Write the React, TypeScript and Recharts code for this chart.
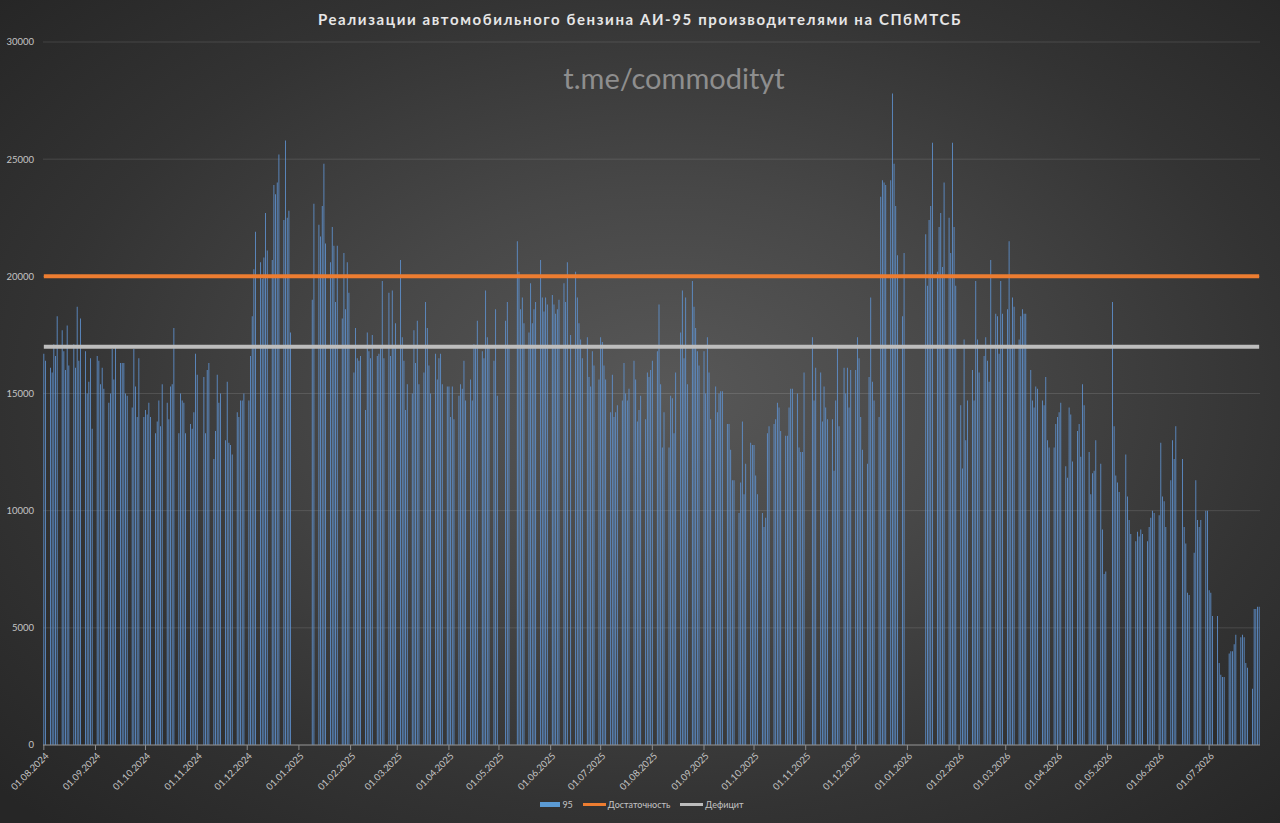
import React from "react";
import { ComposedChart, Bar, Line, XAxis, YAxis, CartesianGrid } from "recharts";

// ---- Series values (trading weekdays of each month, null = no trading) ----
const AUG_2024 = [16700, 16400, 16100, 15900, 17100, 16600, 18300, 17700, 16800, 16000, 17900, 16200, 17100, 16100, 18700, 16400, 18200, 16800, 15000, 15500, 16500, 13500];
const SEP_2024 = [16600, 16400, 15400, 16100, 15200, 14600, 15000, 16900, 15600, 17000, 16300, 16300, 16300, 15000, 14900, 14400, 16900, 15300, 14000, 16500, 14000];
const OCT_2024 = [14300, 14100, 14600, 14000, 13300, 13800, 14700, 13600, 15400, 14600, 13900, 15300, 15400, 17800, 13300, 15000, 14700, 14600, 13300, 13700, 13500, 14200, 16700];
const NOV_2024 = [15800, null, 15700, 13300, 16000, 16300, 12200, 13400, 15800, 14600, 15000, 13000, 15500, 12900, 12800, 12400, 14200, 14000, 14700, 14700, 15000];
const DEC_2024 = [14700, 16600, 18300, 20300, 21900, 20600, 19900, 20800, 22700, 21100, 20700, 23900, 23500, 24000, 25200, 22400, 25800, 22500, 22800, 17600, null, null];
const JAN_2025 = [null, null, null, null, null, null, 19000, 23100, 22200, 21700, 23000, 24800, 21400, 20600, 22100, 21300, 18900, 21300, 18200, 21000, 18600, 20600, 19300];
const FEB_2025 = [15900, 17800, 16500, 16400, 16600, 14300, 17600, 16800, 16500, 17500, 16600, 16700, 17000, 19800, 16500, 19300, 16600, 19400, 17000, 18000];
const MAR_2025 = [20700, 17400, 16400, 14300, 15400, 15000, 17700, 16300, 18100, 15400, 15900, 18900, 17800, 16200, 15000, 16700, 15600, 16500, 16700, 15400, 15300];
const APR_2025 = [15300, 14000, 15300, 13900, 14900, 15400, 15200, 16400, 14700, 15600, 14700, 17100, 17000, 18100, 16800, 16500, 19400, 17400, 17000, 16400, 18600, 14900];
const MAY_2025 = [null, null, 18100, 18900, 17000, null, null, 21500, 20200, 18600, 19100, 18000, 17600, 19700, 18000, 18600, 18900, 20700, 19100, 18500, 19100, 18800];
const JUN_2025 = [19200, 18800, 18400, 18600, 19000, 19700, 18900, 20600, null, 17500, 20200, 19100, 18000, 17300, 16500, 17400, 15700, 15300, 16800, 16200, 15600];
const JUL_2025 = [17400, 17200, 16200, 15600, 14200, 15800, 14000, 14200, 14500, 14700, 16300, 15000, 14700, 15200, 16400, 15600, 13800, 14300, 14900, 13900, 15900, 15700, 16000];
const AUG_2025 = [16400, 16800, 18800, 15400, 12700, 14200, 12700, 14900, 14800, 13300, 15900, 17600, 19400, 16500, 19100, 15400, 19800, 18700, 17800, 16800, 16200];
const SEP_2025 = [16800, 15000, 17400, 15900, 13900, 15300, 14200, 15000, 15100, 15100, 13700, 13700, 12600, 11300, 11300, 9900, 11200, 13800, 10700, 12000, 12900, 12800];
const OCT_2025 = [12800, 11500, 10700, 9900, 9300, 9700, 13300, 13600, 13700, 13900, 14600, 14400, 13400, 13200, 13200, 14400, 15200, 15200, 15000, 12700, 12500, 12500, 15900];
const NOV_2025 = [null, null, 17400, 14700, 16100, 15900, 13800, 15300, 14400, 13900, 13900, 11700, 14700, 17000, 13600, 16100, 15000, 16100, 14400, 16000];
const DEC_2025 = [16000, 17400, 16500, 14000, 12600, 12000, 15700, 19100, 15500, 14700, 14000, 23400, 24100, 24000, 23900, 24100, 27800, 24800, 23000, 20900, 18300, 21000, null];
const JAN_2026 = [null, null, null, null, null, null, null, 21800, 19600, 22400, 23000, 25700, 20200, 22100, 22700, 20400, 24000, 22500, 21000, 25700, 22100, 19600];
const FEB_2026 = [14500, 11800, 17300, 13000, 14700, 16000, 14700, 19800, 17300, 15900, 16600, 17400, 16400, 15500, 20700, 18400, 18300, 16700, 19800, 18400];
const MAR_2026 = [18600, 21500, 17000, 19100, 18700, 17300, 18300, 18600, 18400, 18400, 16000, 14700, 14400, 15300, 15200, 14700, 14500, 15700, 13000, 12700, 12700, 13700];
const APR_2026 = [14000, 14200, 14600, 11900, 11400, 14400, 14100, 12100, 13400, 13700, 12300, 15400, 14500, 12500, 10700, 11600, 11700, 13000, 12000, 9200, 7300, 7400];
const MAY_2026 = [null, 18900, 13600, 11500, 11200, 10800, null, 12400, 10600, 9600, 9000, 8700, 9100, 8900, 9200, 9000, 8700, 9300, 9700, 10000, 9900];
const JUN_2026 = [9800, 12900, 10600, 10400, 9300, 11300, 13000, 12200, 13600, null, 12200, 9300, 8600, 6500, 6400, 8200, 11300, 9600, 9300, 9600, 10000, 10000];
const JUL_2026 = [6600, 6500, 5500, 5500, 3500, 3000, 2900, 2900, 3900, 4000, 4000, 4300, 4700, 4600, 4700, 4600, 3500, 3300, 2400, 5800, 5800, 5900, 5900];

const SUFFICIENCY = 20000;
const DEFICIT = 17000;

const SERIES_NAMES = ["95", "Достаточность", "Дефицит"];
const SERIES_COLORS = ["#5b9bd5", "#ed7d31", "#bdbdbd"];

const Y_TICKS = [0, 5000, 10000, 15000, 20000, 25000, 30000];
const X_TICKS = [
  "01.08.2024", "01.09.2024", "01.10.2024", "01.11.2024", "01.12.2024",
  "01.01.2025", "01.02.2025", "01.03.2025", "01.04.2025", "01.05.2025", "01.06.2025",
  "01.07.2025", "01.08.2025", "01.09.2025", "01.10.2025", "01.11.2025", "01.12.2025",
  "01.01.2026", "01.02.2026", "01.03.2026", "01.04.2026", "01.05.2026", "01.06.2026",
  "01.07.2026",
];

const TITLE = "Реализации автомобильного бензина АИ-95 производителями на СПбМТСБ";
const WATERMARK = "t.me/commodityt";

// month table: [year, monthIndex(0-based), weekday values]
const MONTH_TABLE: [number, number, (number | null)[]][] = [
  [2024, 7, AUG_2024], [2024, 8, SEP_2024], [2024, 9, OCT_2024], [2024, 10, NOV_2024], [2024, 11, DEC_2024],
  [2025, 0, JAN_2025], [2025, 1, FEB_2025], [2025, 2, MAR_2025], [2025, 3, APR_2025], [2025, 4, MAY_2025],
  [2025, 5, JUN_2025], [2025, 6, JUL_2025], [2025, 7, AUG_2025], [2025, 8, SEP_2025], [2025, 9, OCT_2025],
  [2025, 10, NOV_2025], [2025, 11, DEC_2025], [2026, 0, JAN_2026], [2026, 1, FEB_2026], [2026, 2, MAR_2026],
  [2026, 3, APR_2026], [2026, 4, MAY_2026], [2026, 5, JUN_2026], [2026, 6, JUL_2026],
];

const pad = (n: number) => (n < 10 ? "0" + n : "" + n);

const rows: any[] = [];
for (const [year, month, vals] of MONTH_TABLE) {
  const days = new Date(Date.UTC(year, month + 1, 0)).getUTCDate();
  let k = 0;
  for (let d = 1; d <= days; d++) {
    const dow = new Date(Date.UTC(year, month, d)).getUTCDay();
    let v: number | null = null;
    if (dow !== 0 && dow !== 6) {
      v = k < vals.length ? vals[k] : null;
      k++;
    }
    rows.push({
      date: `${pad(d)}.${pad(month + 1)}.${year}`,
      v95: v,
      suff: SUFFICIENCY,
      def: DEFICIT,
    });
  }
}

const TEXT_COLOR = "#c4c4c4";

function DateTick(props: any) {
  const { x, y, payload } = props;
  const label = payload && payload.value;
  if (!X_TICKS.includes(label)) return <g />;
  return (
    <g>
      <line x1={x} x2={x} y1={745} y2={750} stroke="#8c8c8c" strokeWidth={1} />
      <text
        transform={`translate(${x + 3},${754}) rotate(-45)`}
        textAnchor="end"
        dominantBaseline="central"
        fill={TEXT_COLOR}
        fontSize={9.5}
        fontFamily="Lato, sans-serif"
      >
        {label}
      </text>
    </g>
  );
}

function LegendItem({ name, color, isBar }: { name: string; color: string; isBar: boolean }) {
  return (
    <div style={{ display: "flex", alignItems: "center", marginRight: 10 }}>
      <div
        style={{
          width: isBar ? 20 : 23,
          height: isBar ? 5 : 3,
          background: color,
          marginRight: 2,
        }}
      />
      <span style={{ fontSize: 9, color: TEXT_COLOR }}>{name}</span>
    </div>
  );
}

export default function App() {
  return (
    <div
      style={{
        position: "absolute",
        left: 0,
        top: 0,
        width: 1280,
        height: 823,
        overflow: "hidden",
        fontFamily: "Lato, sans-serif",
        background:
          "radial-gradient(ellipse 70% 72% at 52% 48%, #585858 0%, #474747 35%, #333333 70%, #262626 100%)",
      }}
    >
      <ComposedChart
        width={1280}
        height={823}
        data={rows}
        margin={{ top: 42, right: 20, bottom: 28, left: 0 }}
        barCategoryGap="25%"
      >
        <CartesianGrid vertical={false} stroke="#ffffff" strokeOpacity={0.12} />
        <XAxis
          dataKey="date"
          interval={0}
          height={50}
          tickLine={false}
          axisLine={{ stroke: "#8c8c8c" }}
          tick={<DateTick />}
        />
        <YAxis
          type="number"
          domain={[0, 30000]}
          ticks={Y_TICKS}
          interval={0}
          width={43}
          axisLine={false}
          tickLine={false}
          tickMargin={3}
          tick={{ fill: TEXT_COLOR, fontSize: 9.5, fontFamily: "Lato, sans-serif" }}
        />
        <Bar dataKey="v95" name={SERIES_NAMES[0]} fill="#5f93d2" isAnimationActive={false} />
        <Line
          dataKey="suff"
          name={SERIES_NAMES[1]}
          stroke={SERIES_COLORS[1]}
          strokeWidth={4}
          dot={false}
          activeDot={false}
          isAnimationActive={false}
        />
        <Line
          dataKey="def"
          name={SERIES_NAMES[2]}
          stroke={SERIES_COLORS[2]}
          strokeWidth={4}
          dot={false}
          activeDot={false}
          isAnimationActive={false}
        />
      </ComposedChart>

      <div
        style={{
          position: "absolute",
          top: 9,
          left: 0,
          width: 1280,
          textAlign: "center",
          fontSize: 15,
          lineHeight: "20px",
          fontWeight: 700,
          letterSpacing: 1.6,
          color: "#e6e6e6",
        }}
      >
        {TITLE}
      </div>
      <div
        style={{
          position: "absolute",
          top: 60,
          left: 674,
          transform: "translateX(-50%)",
          fontSize: 29,
          color: "#8e8e8e",
          whiteSpace: "nowrap",
        }}
      >
        {WATERMARK}
      </div>
      <div
        style={{
          position: "absolute",
          top: 799,
          left: 0,
          width: 1294,
          display: "flex",
          justifyContent: "center",
        }}
      >
        {SERIES_NAMES.map((n, i) => (
          <LegendItem key={n} name={n} color={SERIES_COLORS[i]} isBar={i === 0} />
        ))}
      </div>
    </div>
  );
}
